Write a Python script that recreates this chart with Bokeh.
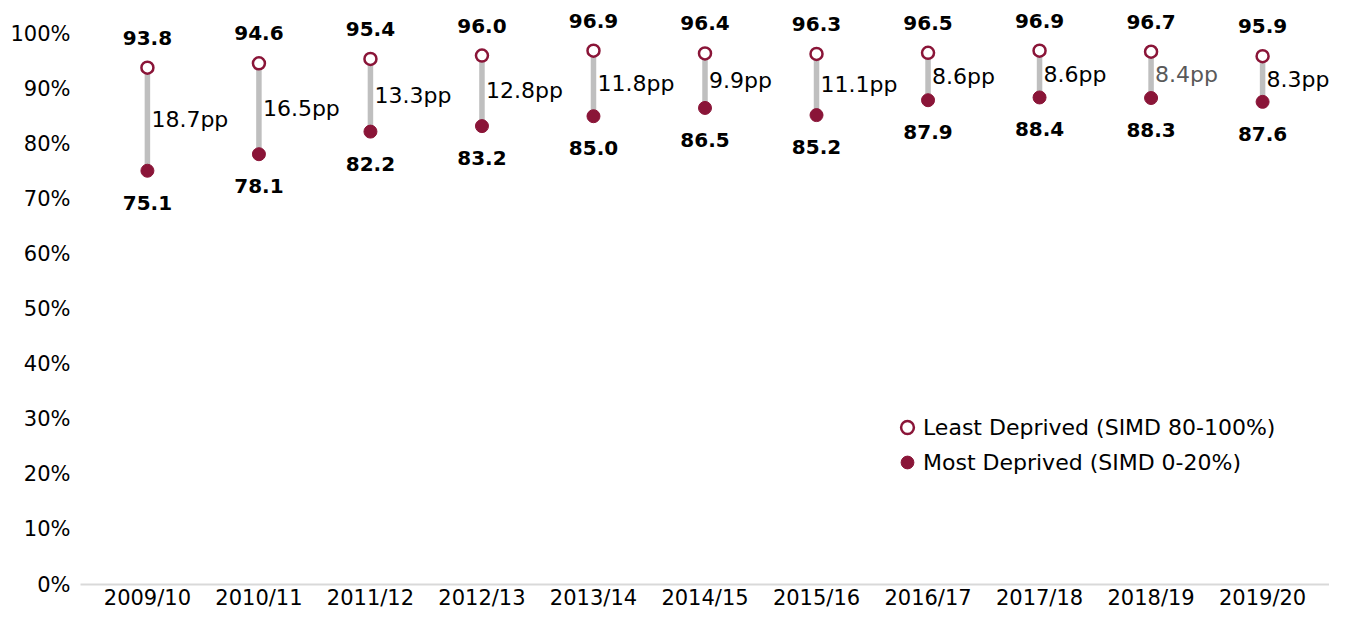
from bokeh.plotting import figure
from bokeh.models import (ColumnDataSource, FactorRange, Range1d, FixedTicker,
                          PrintfTickFormatter, Legend, LegendItem, LabelSet)
from bokeh.core.properties import value
from bokeh.embed import file_html
from bokeh.resources import INLINE

years = ["2009/10", "2010/11", "2011/12", "2012/13", "2013/14", "2014/15",
         "2015/16", "2016/17", "2017/18", "2018/19", "2019/20"]
least = [93.8, 94.6, 95.4, 96.0, 96.9, 96.4, 96.3, 96.5, 96.9, 96.7, 95.9]
most = [75.1, 78.1, 82.2, 83.2, 85.0, 86.5, 85.2, 87.9, 88.4, 88.3, 87.6]
gap_labels = ["18.7pp", "16.5pp", "13.3pp", "12.8pp", "11.8pp", "9.9pp",
              "11.1pp", "8.6pp", "8.6pp", "8.4pp", "8.3pp"]
gap_colors = ["#000000"] * 9 + ["#595959", "#000000"]
y_ticks = [0, 10, 20, 30, 40, 50, 60, 70, 80, 90, 100]

MAROON = "#8a1538"
FONT = "DejaVu Sans"

src = ColumnDataSource(dict(
    year=years, least=least, most=most,
    least_lbl=[f"{v:.1f}" for v in least],
    most_lbl=[f"{v:.1f}" for v in most],
    mid=[(a + b) / 2 for a, b in zip(least, most)],
    gap=gap_labels, gap_col=gap_colors,
))

p = figure(width=1329, height=612, output_backend="svg", toolbar_location=None,
           x_range=FactorRange(*years, range_padding=0.1,
                               range_padding_units="absolute"),
           y_range=Range1d(0, 106),
           min_border_left=80, min_border_right=0, min_border_top=0,
           min_border_bottom=27)
p.outline_line_color = None
p.xgrid.visible = False
p.ygrid.visible = False

# axes
p.yaxis.ticker = FixedTicker(ticks=y_ticks)
p.yaxis.formatter = PrintfTickFormatter(format="%d%%")
p.yaxis.axis_line_color = None
p.yaxis.major_tick_line_color = None
p.yaxis.minor_tick_line_color = None
p.yaxis.major_tick_out = 0
p.yaxis.major_tick_in = 0
p.yaxis.minor_tick_out = 0
p.yaxis.major_label_standoff = 10
p.yaxis.major_label_text_font = FONT
p.yaxis.major_label_text_font_size = "21px"
p.yaxis.major_label_text_color = "#000000"

p.xaxis.axis_line_color = "#d9d9d9"
p.xaxis.axis_line_width = 2
p.xaxis.major_tick_line_color = None
p.xaxis.minor_tick_line_color = None
p.xaxis.major_tick_out = 0
p.xaxis.major_tick_in = 0
p.xaxis.minor_tick_out = 0
p.xaxis.major_label_standoff = 1
p.xaxis.major_label_text_font = FONT
p.xaxis.major_label_text_font_size = "21px"
p.xaxis.major_label_text_color = "#000000"

# connecting bars
p.segment(x0="year", y0="most", x1="year", y1="least", source=src,
          line_color="#bfbfbf", line_width=5.5)

r_most = p.scatter(x="year", y="most", source=src, size=13,
                   fill_color=MAROON, line_color=MAROON, line_width=1)
r_least = p.scatter(x="year", y="least", source=src, size=12,
                    fill_color="white", line_color=MAROON, line_width=2.5)

# value labels
p.add_layout(LabelSet(x="year", y="least", text="least_lbl", source=src,
                      text_font=value(FONT), text_font_style="bold",
                      text_font_size="20px", text_align="center",
                      text_baseline="middle", y_offset=30,
                      text_color="#000000"))
p.add_layout(LabelSet(x="year", y="most", text="most_lbl", source=src,
                      text_font=value(FONT), text_font_style="bold",
                      text_font_size="20px", text_align="center",
                      text_baseline="middle", y_offset=-32,
                      text_color="#000000"))
p.add_layout(LabelSet(x="year", y="mid", text="gap", source=src,
                      text_font=value(FONT), text_font_size="22px",
                      text_align="left", text_baseline="middle", x_offset=4,
                      text_color="gap_col"))

legend = Legend(items=[
    LegendItem(label="Least Deprived (SIMD 80-100%)", renderers=[r_least]),
    LegendItem(label="Most Deprived (SIMD 0-20%)", renderers=[r_most]),
], location=(811, 106), orientation="vertical")
legend.glyph_width = 32
legend.glyph_height = 32
legend.label_standoff = 0
legend.spacing = 3
legend.padding = 0
legend.margin = 0
legend.border_line_color = None
legend.background_fill_alpha = 0
legend.label_text_font = FONT
legend.label_text_font_size = "22px"
legend.label_text_color = "#000000"
p.add_layout(legend)

open("out.html", "w").write(file_html(p, INLINE))
